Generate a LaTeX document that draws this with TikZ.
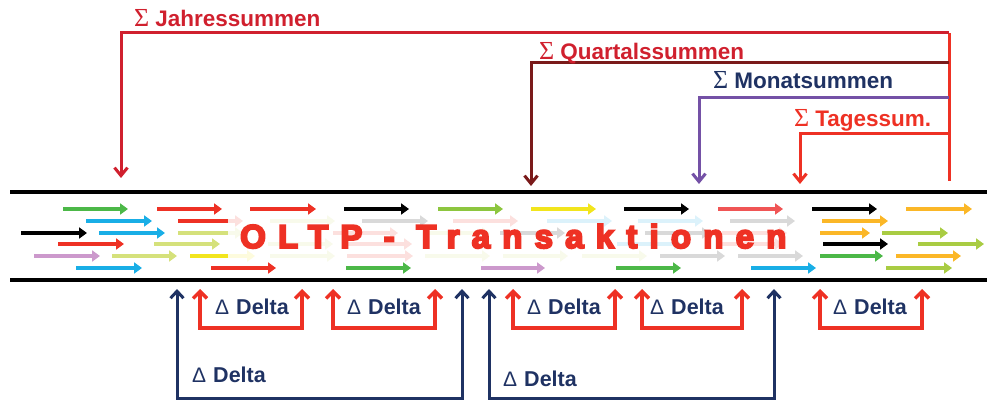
\documentclass[tikz,border=0pt]{standalone}
\usepackage{fontspec}
\setmainfont{Liberation Sans}
\newfontfamily\sigfont{Liberation Serif}
\newfontfamily\oltpfont[LetterSpace=37,FakeBold=6]{Liberation Sans Bold}
\usetikzlibrary{arrows.meta}
\definecolor{cgreen}{HTML}{4CB848}
\definecolor{cblue}{HTML}{19AEE6}
\definecolor{cred}{HTML}{EE3124}
\definecolor{clg}{HTML}{D5E17B}
\definecolor{cpur}{HTML}{CC99CC}
\definecolor{cyel}{HTML}{F2E51D}
\definecolor{cyg}{HTML}{8DC63F}
\definecolor{cyg2}{HTML}{A9CC43}
\definecolor{corange}{HTML}{FBB727}
\definecolor{clred}{HTML}{F05555}
\definecolor{jred}{HTML}{D0202E}
\definecolor{qdark}{HTML}{7A1A1A}
\definecolor{mpurple}{HTML}{7451A6}
\definecolor{navy}{HTML}{1F3263}
\newcommand\myarr[4]{\draw[sa,#1] (#2,#4) -- (#3,#4);}
\newcommand\sumlab[1]{{\sigfont\mdseries\fontsize{26}{28}\selectfont\char"03A3}\hspace{6pt}#1}
\newcommand\dellab{{\fontsize{21}{24}\selectfont\mdseries\char"0394}\hspace{7pt}Delta}
\begin{document}
\begin{tikzpicture}[x=1pt,y=-1pt,
  sa/.style={line width=4pt,-{Triangle[length=8pt,width=11pt]}},
  band/.style={line width=4pt,black},
  fade/.style={fill=white,opacity=0.85},
  topar/.style={line width=3pt,-{Straight Barb[length=8pt,width=13pt]}},
  redbr/.style={draw=cred,line width=3.5pt,{Straight Barb[length=7pt,width=14pt]}-{Straight Barb[length=7pt,width=14pt]}},
  navybr/.style={draw=navy,line width=3pt,{Straight Barb[length=7pt,width=13pt]}-{Straight Barb[length=7pt,width=13pt]}},
  slab/.style={anchor=base west,inner sep=0pt,font=\fontsize{22.5}{27}\selectfont\bfseries},
  dlab/.style={anchor=base west,inner sep=0pt,text=navy,font=\fontsize{21.5}{25}\selectfont\bfseries}]
\useasboundingbox (0,0) rectangle (987,403);
% band lines
\draw[band] (10,192) -- (987,192);
\draw[band] (10,280) -- (987,280);
% row 209
\myarr{cgreen}{63}{128}{209}
\myarr{cred}{157}{222}{209}
\myarr{cred}{250}{316}{209}
\myarr{black}{344}{409}{209}
\myarr{cyg}{438}{503}{209}
\myarr{cyel}{531}{596}{209}
\myarr{black}{624}{689}{209}
\myarr{clred}{718}{783}{209}
\myarr{black}{812}{877}{209}
\myarr{corange}{906}{972}{209}
% row 221
\myarr{cblue}{86}{152}{221}
\myarr{cred}{178}{243}{221}
\myarr{clg}{270}{335}{221}
\myarr{black}{362}{428}{221}
\myarr{cred}{453}{518}{221}
\myarr{cblue}{547}{612}{221}
\myarr{cblue}{638}{703}{221}
\myarr{black}{730}{795}{221}
\myarr{corange}{822}{888}{221}
% row 233
\myarr{black}{21}{87}{233}
\myarr{cblue}{99}{165}{233}
\myarr{clg}{178}{243}{233}
\myarr{cred}{333}{398}{233}
\myarr{clg}{425}{490}{233}
\myarr{black}{500}{565}{233}
\myarr{black}{645}{710}{233}
\myarr{cred}{722}{787}{233}
\myarr{corange}{820}{870}{233}
\myarr{cyg2}{882}{948}{233}
% row 244
\myarr{cred}{58}{124}{244}
\myarr{clg}{154}{220}{244}
\myarr{clg}{268}{333}{244}
\myarr{cred}{347}{412}{244}
\myarr{cblue}{617}{682}{244}
\myarr{cred}{718}{783}{244}
\myarr{black}{823}{888}{244}
\myarr{cyg2}{918}{984}{244}
% row 256
\myarr{cpur}{34}{100}{256}
\myarr{clg}{112}{177}{256}
\myarr{cyel}{190}{255}{256}
\myarr{clg}{270}{335}{256}
\myarr{cred}{347}{413}{256}
\myarr{clg}{425}{490}{256}
\myarr{clg}{503}{568}{256}
\myarr{clg}{582}{647}{256}
\myarr{black}{660}{725}{256}
\myarr{black}{738}{803}{256}
\myarr{cgreen}{820}{883}{256}
\myarr{corange}{896}{961}{256}
% row 268
\myarr{cblue}{76}{142}{268}
\myarr{cred}{211}{276}{268}
\myarr{cgreen}{346}{411}{268}
\myarr{cpur}{481}{545}{268}
\myarr{cgreen}{616}{681}{268}
\myarr{cblue}{751}{816}{268}
\myarr{cyg2}{886}{952}{268}
% fading box and title
\fill[fade] (228,215) rectangle (820,262);
\node[anchor=base west,inner sep=0pt,text=cred,font=\oltpfont\fontsize{33}{36}\selectfont] (oltp) at (240,248) {OLTP - Transaktionen};
% top sums
\coordinate (rtop) at (949,33);
\coordinate (rbot) at (949,181);
\coordinate (jt) at (121,178);
\coordinate (qt) at (531,186);
\coordinate (mt) at (699,184);
\coordinate (tt) at (800,184);
\draw[draw=cred,line width=3pt] (rtop) -- (rbot);
\draw[topar,draw=jred] (rtop) -- (121,33) -- (jt);
\draw[topar,draw=qdark] (949,63) -- (531,63) -- (qt);
\draw[topar,draw=mpurple] (949,98) -- (699,98) -- (mt);
\draw[topar,draw=cred] (949,134) -- (800,134) -- (tt);
\node[slab,text=jred] (jl) at (134,27) {\sumlab{Jahressummen}};
\node[slab,text=jred] (ql) at (539,60) {\sumlab{Quartalssummen}};
\node[slab,text=navy] (ml) at (713,89) {\sumlab{Monatsummen}};
\node[slab,text=cred] (tl) at (794,127) {\sumlab{Tagessum.}};
% small red delta brackets
\foreach \l/\r/\lx [count=\i] in {200/302/215,333/435/347,513/615/527,642/742/650,820/922/833}{
  \coordinate (dl\i) at (\l,289);
  \coordinate (dr\i) at (\r,289);
  \draw[redbr] (dl\i) -- (\l,328) -- (\r,328) -- (dr\i);
  \node[dlab] (dn\i) at (\lx,314) {\dellab};
}
% big navy delta brackets
\foreach \l/\r/\lx/\ly [count=\i] in {177/462/192/382,489/774/503/386}{
  \coordinate (bl\i) at (\l,289);
  \coordinate (br\i) at (\r,289);
  \draw[navybr] (bl\i) -- (\l,398) -- (\r,398) -- (br\i);
  \node[dlab] (bn\i) at (\lx,\ly) {\dellab};
}
\end{tikzpicture}
\end{document}
